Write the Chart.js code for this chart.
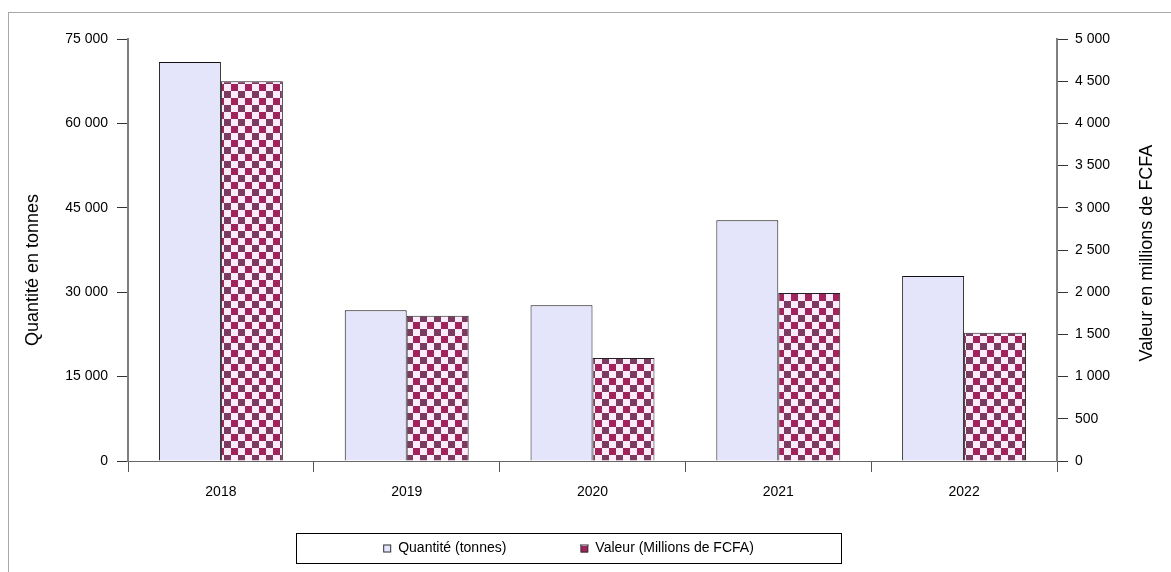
<!DOCTYPE html>
<html>
<head>
<meta charset="utf-8">
<script src="https://cdn.jsdelivr.net/npm/chart.js@4/dist/chart.umd.min.js"></script>
<style>
  html, body { margin: 0; padding: 0; background: #fff; }
  #wrap { width: 1171px; height: 572px; }
</style>
</head>
<body>
<div id="wrap"><canvas id="chart" width="1171" height="572"></canvas></div>
<script>
const years = ["2018", "2019", "2020", "2021", "2022"];
const quantite = [70900, 26800, 27700, 42800, 32900];
const valeur = [4500, 1720, 1220, 1990, 1520];

const qtyMax = 75000, qtyStep = 15000;
const valMax = 5000, valStep = 500;
const valTitle = "Valeur en millions de FCFA";

const FONT = 'Arial, "Liberation Sans", sans-serif';

// french style thousands: 75 000
function fmt(v) {
    return String(v).replace(/\B(?=(\d{3})+(?!\d))/g, " ");
}

// checkerboard fill for the value series
function checker() {
    const c = document.createElement("canvas");
    c.width = 14;
    c.height = 14;
    const g = c.getContext("2d");
    g.fillStyle = "#fcecfa";
    g.fillRect(0, 0, 14, 14);
    g.fillStyle = "#a0235c";
    g.fillRect(7, 0, 7, 7);
    g.fillStyle = "#7b3a5f";
    g.fillRect(0, 7, 7, 7);
    return g.createPattern(c, "repeat");
}

const frame = {
    id: "frame",
    beforeDraw(chart) {
        const ctx = chart.ctx;
        ctx.save();
        ctx.strokeStyle = "#a8a8a8";
        ctx.lineWidth = 1;
        ctx.strokeRect(8.5, 12.5, 2000, 2000);
        ctx.restore();
    },
};

// right axis title, read bottom to top like the left one
const rightTitle = {
    id: "rightTitle",
    afterDraw(chart) {
        const s = chart.scales.y1;
        const ctx = chart.ctx;
        ctx.save();
        ctx.translate(s.right - 24, (s.top + s.bottom) / 2 + 3);
        ctx.rotate(-Math.PI / 2);
        ctx.font = "18px " + FONT;
        ctx.fillStyle = "#000";
        ctx.textAlign = "center";
        ctx.textBaseline = "middle";
        ctx.fillText(valTitle, 0, 0);
        ctx.restore();
    },
};

// boxed legend under the plot
const boxLegend = {
    id: "boxLegend",
    afterDraw(chart) {
        const ctx = chart.ctx;
        const box = {x: 296, y: 533, w: 545, h: 30};
        const sq = 8, gapText = 7, gapItem = 74;
        ctx.save();
        ctx.font = "14px " + FONT;
        ctx.strokeStyle = "#000";
        ctx.lineWidth = 1;
        ctx.strokeRect(box.x + 0.5, box.y + 0.5, box.w, box.h);

        const items = chart.data.datasets.map((ds) => ({
            label: ds.label,
            fill: ds.backgroundColor,
            w: sq + gapText + ctx.measureText(ds.label).width,
        }));
        const total = items.reduce((s, it) => s + it.w, 0) + gapItem * (items.length - 1);
        let x = box.x + (box.w - total) / 2;
        const cy = box.y + box.h / 2 + 0.5;
        items.forEach((it) => {
            ctx.fillStyle = it.fill;
            ctx.fillRect(x, cy - sq / 2, sq, sq);
            ctx.strokeStyle = "#333";
            ctx.strokeRect(x + 0.5, cy - sq / 2 + 0.5, sq - 1, sq - 1);
            ctx.fillStyle = "#000";
            ctx.textBaseline = "middle";
            ctx.textAlign = "left";
            ctx.fillText(it.label, x + sq + gapText, cy);
            x += it.w + gapItem;
        });
        ctx.restore();
    },
};

const ctx = document.getElementById("chart").getContext("2d");
new Chart(ctx, {
    type: "bar",
    data: {
        labels: years,
        datasets: [
            {
                label: "Quantité (tonnes)",
                data: quantite,
                yAxisID: "y",
                backgroundColor: "#e4e4fb",
                borderColor: "#111",
                borderWidth: 1,
            },
            {
                label: "Valeur (Millions de FCFA)",
                data: valeur,
                yAxisID: "y1",
                backgroundColor: checker(),
                borderColor: "#222",
                borderWidth: 1,
            },
        ],
    },
    options: {
        responsive: false,
        animation: false,
        layout: {padding: {top: 39, left: 0, right: 0, bottom: 0}},
        datasets: {bar: {categoryPercentage: 0.667, barPercentage: 1}},
        plugins: {
            legend: {display: false},
            tooltip: {enabled: false},
        },
        scales: {
            x: {
                offset: true,
                grid: {offset: true, drawOnChartArea: false, tickLength: 11, color: "#555"},
                border: {color: "#666", width: 1},
                ticks: {color: "#000", font: {family: FONT, size: 14}, padding: 12},
                afterFit(scale) {
                    scale.height = 111;
                },
            },
            y: {
                position: "left",
                min: 0,
                max: qtyMax,
                ticks: {
                    stepSize: qtyStep,
                    color: "#000",
                    font: {family: FONT, size: 14},
                    padding: 9,
                    callback: (v) => fmt(v),
                },
                grid: {drawOnChartArea: false, tickLength: 11, color: "#333"},
                border: {color: "#7f7f7f", width: 2},
                title: {
                    display: true,
                    // trailing spaces push the centred text a bit lower
                    text: "Quantité en tonnes        ",
                    color: "#000",
                    font: {family: FONT, size: 18},
                    padding: {top: 22, bottom: 0},
                },
                afterFit(scale) {
                    scale.width = 128;
                },
            },
            y1: {
                position: "right",
                min: 0,
                max: valMax,
                ticks: {
                    stepSize: valStep,
                    color: "#000",
                    font: {family: FONT, size: 14},
                    padding: 7,
                    callback: (v) => fmt(v),
                },
                grid: {drawOnChartArea: false, tickLength: 11, color: "#333"},
                border: {color: "#7f7f7f", width: 2},
                afterFit(scale) {
                    scale.width = 114;
                },
            },
        },
    },
    plugins: [frame, rightTitle, boxLegend],
});
</script>
</body>
</html>
